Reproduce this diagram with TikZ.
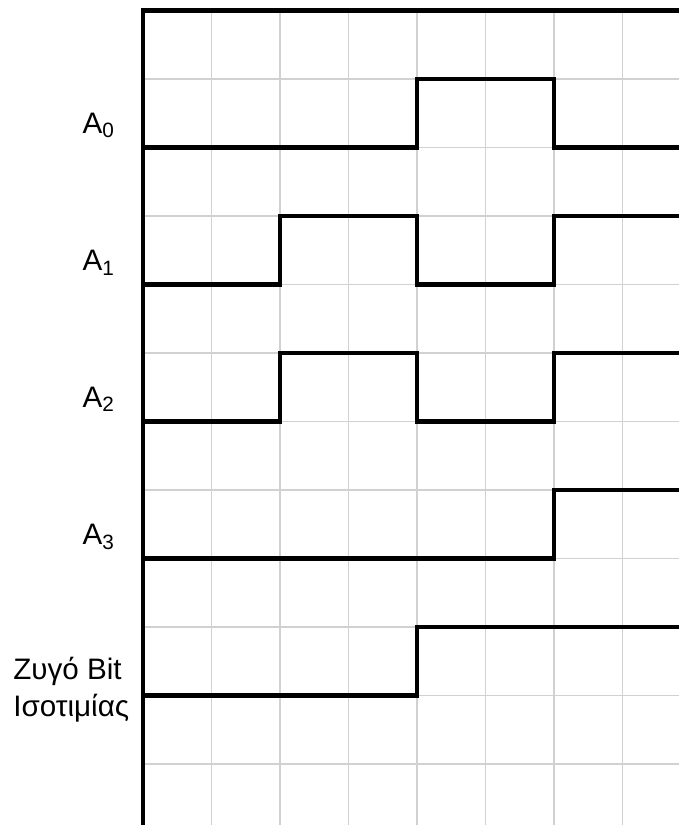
\documentclass[tikz,border=0pt]{standalone}
\usepackage{fontspec}
\setmainfont{Liberation Sans}

\begin{document}
\begin{tikzpicture}[
    gridline/.style={draw=black!18, line width=0.7pt},
    wave/.style={line width=1.75pt, line join=miter},
    siglabel/.style={anchor=base west, inner sep=0pt, align=left,
                     font=\fontsize{12.3}{15.3}\selectfont},
  ]
  \useasboundingbox (-2.088,-11.891) rectangle (7.825,0.153);

  % --- background grid ---
  \foreach \x in {1,...,7}
    \draw[gridline] (\x,0) -- (\x,-11.891);
  \foreach \y in {1,...,11}
    \draw[gridline] (0,-\y) -- (7.825,-\y);

  % --- frame ---
  \draw[wave] (0,-11.891) -- (0,0) -- (7.825,0);

  % --- waveforms ---
  \draw[wave] (0,-2) -- (4,-2) -- (4,-1) -- (6,-1) -- (6,-2) -- (7.825,-2);
  \draw[wave] (0,-4) -- (2,-4) -- (2,-3) -- (4,-3) -- (4,-4) -- (6,-4) -- (6,-3) -- (7.825,-3);
  \draw[wave] (0,-6) -- (2,-6) -- (2,-5) -- (4,-5) -- (4,-6) -- (6,-6) -- (6,-5) -- (7.825,-5);
  \draw[wave] (0,-8) -- (6,-8) -- (6,-7) -- (7.825,-7);
  \draw[wave] (0,-10) -- (4,-10) -- (4,-9) -- (7.825,-9);

  % --- signal names ---
  \node[siglabel] (a0) at (-0.89,-1.79) {A\textsubscript{0}};
  \node[siglabel] (a1) at (-0.89,-3.80) {A\textsubscript{1}};
  \node[siglabel] (a2) at (-0.89,-5.79) {A\textsubscript{2}};
  \node[siglabel] (a3) at (-0.89,-7.80) {A\textsubscript{3}};
  \node[siglabel] (par) at (-1.90,-10.31) {Ζυγό Bit\\Ισοτιμίας};
\end{tikzpicture}
\end{document}
